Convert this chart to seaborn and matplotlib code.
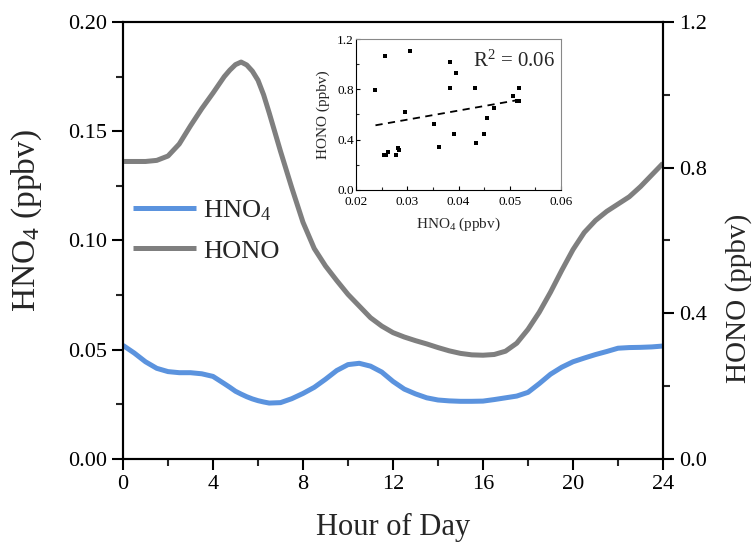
import numpy as np
import pandas as pd
import matplotlib
matplotlib.use("Agg")
import matplotlib.pyplot as plt
import seaborn as sns
from matplotlib.ticker import MultipleLocator, FormatStrFormatter
from matplotlib.lines import Line2D

# ---------------- data ----------------
hours = [0, 0.5, 1, 1.5, 2, 2.5, 3, 3.5, 4, 4.5, 4.75, 5, 5.25, 5.5, 5.75, 6, 6.25,
         6.5, 7, 7.5, 8, 8.5, 9, 9.5, 10, 10.5, 11, 11.5, 12, 12.5, 13, 13.5, 14,
         14.5, 15, 15.5, 16, 16.5, 17, 17.5, 18, 18.5, 19, 19.5, 20, 20.5, 21,
         21.5, 22, 22.5, 23, 23.5, 24]
hno4 = [0.052, 0.0485, 0.0445, 0.0415, 0.0400, 0.0395, 0.0395, 0.0390, 0.0378,
        0.0345, 0.0328, 0.0310, 0.0297, 0.0285, 0.0275, 0.0267, 0.0261,
        0.0256, 0.0258, 0.0276, 0.0300, 0.0328, 0.0365, 0.0405, 0.0432,
        0.0438, 0.0425, 0.0398, 0.0355, 0.0320, 0.0298, 0.0280, 0.0270,
        0.0266, 0.0264, 0.0264, 0.0265, 0.0272, 0.0280, 0.0288, 0.0305,
        0.0345, 0.0388, 0.0420, 0.0445, 0.0462, 0.0478, 0.0492, 0.0507,
        0.0510, 0.0511, 0.0513, 0.0517]
hono = [0.817, 0.817, 0.817, 0.820, 0.832, 0.865, 0.915, 0.962, 1.005, 1.050,
        1.068, 1.083, 1.090, 1.082, 1.065, 1.040, 1.000, 0.950, 0.845, 0.745,
        0.650, 0.578, 0.530, 0.490, 0.452, 0.420, 0.388, 0.365, 0.347, 0.335,
        0.325, 0.316, 0.306, 0.297, 0.290, 0.286, 0.285, 0.287, 0.296, 0.318,
        0.356, 0.403, 0.458, 0.518, 0.575, 0.622, 0.655, 0.680, 0.700, 0.720,
        0.748, 0.780, 0.812]

# inset scatter (HNO4 vs HONO)
sc_hno4 = [0.0238, 0.0256, 0.0305, 0.0383, 0.0395, 0.0383, 0.0433, 0.0295,
           0.0352, 0.0391, 0.0362, 0.0434, 0.0450, 0.0456, 0.0470, 0.0506,
           0.0518, 0.0518, 0.0254, 0.0259, 0.0263, 0.0278, 0.0282, 0.0284, 0.0514]
sc_hono = [0.797, 1.063, 1.108, 1.016, 0.931, 0.807, 0.807, 0.617,
           0.525, 0.443, 0.338, 0.375, 0.449, 0.573, 0.654, 0.744,
           0.810, 0.704, 0.277, 0.277, 0.303, 0.277, 0.335, 0.317, 0.710]
r2_text = "R$^2$ = 0.06"

blue = "#5B93DE"
grey = "#7F7F7F"

# ---------------- style ----------------
sns.set_theme(style="ticks")
plt.rcParams["font.family"] = ["Liberation Serif", "DejaVu Serif"]
plt.rcParams["mathtext.fontset"] = "custom"
plt.rcParams["mathtext.rm"] = "Liberation Serif"
plt.rcParams["mathtext.it"] = "Liberation Serif:italic"
plt.rcParams["mathtext.bf"] = "Liberation Serif:bold"
plt.rcParams["lines.solid_joinstyle"] = "round"
plt.rcParams["lines.solid_capstyle"] = "butt"

df = pd.DataFrame({"hour": hours, "HNO4": hno4, "HONO": hono})
sdf = pd.DataFrame({"HNO4": sc_hno4, "HONO": sc_hono})

fig = plt.figure(figsize=(7.53, 5.42), dpi=100)
ax = fig.add_axes([123 / 753, 1 - 459 / 542, (663 - 123) / 753, (459 - 22) / 542])
ax2 = ax.twinx()

sns.lineplot(data=df, x="hour", y="HNO4", ax=ax, color=blue, lw=3.6)
sns.lineplot(data=df, x="hour", y="HONO", ax=ax2, color=grey, lw=3.6)
for a in (ax, ax2):
    for ln in a.get_lines():
        ln.set_solid_joinstyle("round")

ax.set_xlim(0, 24)
ax.set_ylim(0, 0.20)
ax2.set_ylim(0, 1.2)

ax.xaxis.set_major_locator(MultipleLocator(4))
ax.xaxis.set_minor_locator(MultipleLocator(2))
ax.yaxis.set_major_locator(MultipleLocator(0.05))
ax.yaxis.set_minor_locator(MultipleLocator(0.025))
ax.yaxis.set_major_formatter(FormatStrFormatter("%.2f"))
ax2.yaxis.set_major_locator(MultipleLocator(0.4))
ax2.yaxis.set_minor_locator(MultipleLocator(0.2))
ax2.yaxis.set_major_formatter(FormatStrFormatter("%.1f"))

for a in (ax, ax2):
    for s in a.spines.values():
        s.set_color("black")
        s.set_linewidth(1.5)
    a.tick_params(which="major", direction="out", length=8, width=1.5,
                  labelsize=16, colors="black")
    a.tick_params(which="minor", direction="out", length=5, width=1.5)

ax.set_xlabel("Hour of Day", fontsize=22, labelpad=14)
ax.set_ylabel("HNO$_4$ (ppbv)", fontsize=24)
ax.yaxis.set_label_coords(-0.146, 0.545)
ax2.set_ylabel("HONO (ppbv)", fontsize=21)
ax2.yaxis.set_label_coords(1.115, 0.368)

handles = [Line2D([], [], color=blue, lw=3.6), Line2D([], [], color=grey, lw=3.6)]
ax.legend(handles, ["HNO$_4$", "HONO"], loc="upper left",
          bbox_to_anchor=(0.0185, 0.596), frameon=False, fontsize=19,
          handlelength=2.4, handletextpad=0.25, labelspacing=0.61,
          borderpad=0, borderaxespad=0)

# ---------------- inset ----------------
ins = fig.add_axes([356 / 753, 1 - 190 / 542, (561 - 356) / 753, (190 - 39) / 542])
sns.scatterplot(data=sdf, x="HNO4", y="HONO", ax=ins, marker="s", s=7,
                color="black", edgecolor="black", linewidth=0)
sns.regplot(data=sdf, x="HNO4", y="HONO", ax=ins, scatter=False, ci=None,
            truncate=True, color="black",
            line_kws={"ls": (0, (4, 3)), "lw": 1.3})
ins.set_xlim(0.02, 0.06)
ins.set_ylim(0, 1.2)
ins.xaxis.set_major_locator(MultipleLocator(0.01))
ins.xaxis.set_minor_locator(MultipleLocator(0.005))
ins.yaxis.set_major_locator(MultipleLocator(0.4))
ins.yaxis.set_minor_locator(MultipleLocator(0.2))
ins.xaxis.set_major_formatter(FormatStrFormatter("%.2f"))
ins.yaxis.set_major_formatter(FormatStrFormatter("%.1f"))
ins.tick_params(which="major", direction="in", length=3, width=0.8,
                labelsize=9.5, colors="black")
ins.tick_params(axis="x", which="major", pad=4)
ins.tick_params(axis="y", which="major", pad=1.5)
ins.tick_params(which="minor", direction="in", length=2, width=0.8)
ins.spines["left"].set_color("black")
ins.spines["bottom"].set_color("black")
ins.spines["top"].set_color("#888888")
ins.spines["right"].set_color("#888888")
for s in ins.spines.values():
    s.set_linewidth(0.8)
ins.set_xlabel("HNO$_4$ (ppbv)", fontsize=11, labelpad=6)
ins.set_ylabel("HONO (ppbv)", fontsize=11, labelpad=5)
ins.text(0.97, 0.85, r2_text, transform=ins.transAxes, ha="right", va="center",
         fontsize=15)
ins.set_facecolor("white")

fig.savefig("out.png", dpi=100)
